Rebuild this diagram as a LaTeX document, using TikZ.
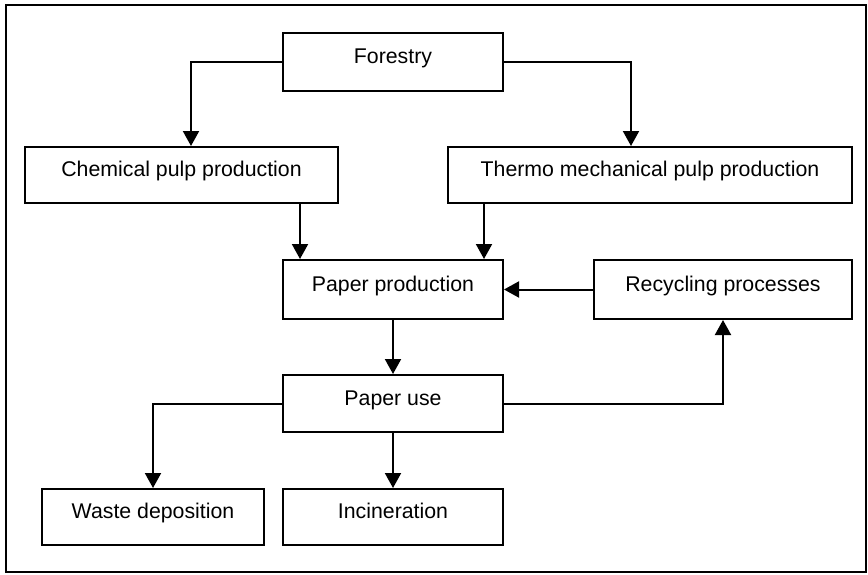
\documentclass[tikz,border=0pt]{standalone}
\usepackage{fontspec}
\setmainfont{Liberation Sans}
\usetikzlibrary{arrows.meta}

\begin{document}
\begin{tikzpicture}[x=0.5pt,y=-0.5pt,
  box/.style={draw,line width=1pt,inner sep=0pt,text height=9pt,text depth=7.5pt,
    font=\fontsize{10.65}{13}\selectfont},
  flow/.style={line width=1pt,-{Triangle[width=8pt,length=7.5pt]}}]
  \useasboundingbox (0,0) rectangle (868,574);
  \draw [line width=1pt] (6,5) rectangle (866,572);
  \node [box,minimum width=110pt,minimum height=29pt] (forestry) at (393,62) {Forestry};
  \node [box,minimum width=156.5pt,minimum height=28pt] (chem) at (181.5,175) {Chemical pulp production};
  \node [box,minimum width=202pt,minimum height=28pt] (tmp) at (650,175) {Thermo mechanical pulp production};
  \node [box,minimum width=110pt,minimum height=29.5pt] (prod) at (393,289.5) {Paper production};
  \node [box,minimum width=129pt,minimum height=29.5pt] (recyc) at (723,289.5) {Recycling processes};
  \node [box,minimum width=110pt,minimum height=28.5pt] (use) at (393,403.5) {Paper use};
  \node [box,minimum width=111pt,minimum height=28pt] (waste) at (153,517) {Waste deposition};
  \node [box,minimum width=110pt,minimum height=28pt] (incin) at (393,517) {Incineration};
  \draw [flow] (forestry.west) -| ([xshift=4.75pt]chem.north);
  \draw [flow] (forestry.east) -| ([xshift=-9.5pt]tmp.north);
  \draw [flow] ([xshift=-46.5pt]prod.north |- chem.south) -- ([xshift=-46.5pt]prod.north);
  \draw [flow] ([xshift=45.5pt]prod.north |- tmp.south) -- ([xshift=45.5pt]prod.north);
  \draw [flow] (recyc.west) -- (prod.east);
  \draw [flow] (prod.south) -- (use.north);
  \draw [flow] (use.west) -| (waste.north);
  \draw [flow] (use.south) -- (incin.north);
  \draw [flow] (use.east) -| (recyc.south);
 \end{tikzpicture}
\end{document}
